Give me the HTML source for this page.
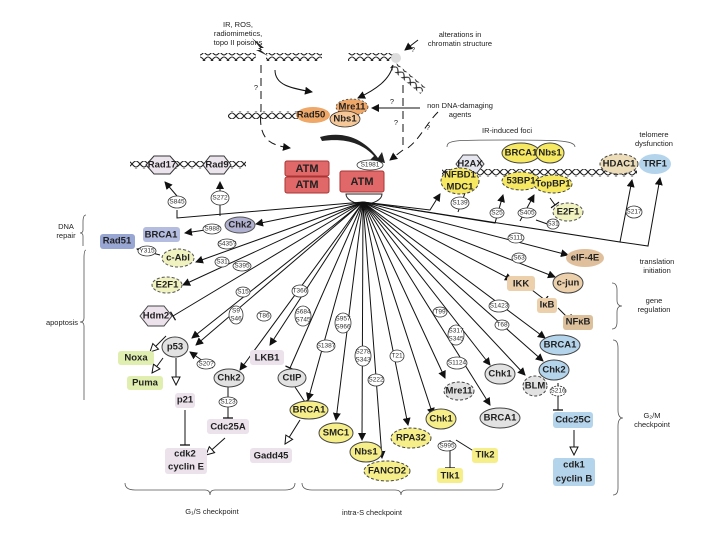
<!DOCTYPE html>
<html><head><meta charset="utf-8"><style>
html,body{margin:0;padding:0;background:#fff}
svg{display:block}
text{font-family:"Liberation Sans",sans-serif}
.n{font-size:9.5px;font-weight:bold;fill:#222;text-anchor:middle;dominant-baseline:central}
.s{font-size:6.5px;fill:#333;text-anchor:middle;dominant-baseline:central}
.l{font-size:7.5px;fill:#222;text-anchor:middle}
.ln{stroke:#111;stroke-width:1;fill:none}
.so{fill:#fff;stroke:#333;stroke-width:0.8}
</style></head><body>
<svg width="720" height="540" viewBox="0 0 720 540" xmlns="http://www.w3.org/2000/svg">
<defs>
<marker id="a" markerWidth="8" markerHeight="8" refX="7" refY="4" orient="auto" markerUnits="userSpaceOnUse"><path d="M0,0L8,4L0,8z" fill="#111"/></marker>
<marker id="o" markerWidth="10" markerHeight="10" refX="9" refY="5" orient="auto" markerUnits="userSpaceOnUse"><path d="M1,1L9,5L1,9z" fill="#fff" stroke="#111"/></marker>
<marker id="t" markerWidth="4" markerHeight="10" refX="2" refY="5" orient="auto" markerUnits="userSpaceOnUse"><path d="M2,0L2,10" stroke="#111" stroke-width="1.3"/></marker>
<pattern id="h" width="8" height="8" patternUnits="userSpaceOnUse"><path d="M0,1C3,1 5,7 8,7M0,7C3,7 5,1 8,1" stroke="#222" stroke-width="1.1" fill="none"/></pattern>
</defs>

<!-- top stimuli -->
<text class="l" x="238" y="27" text-anchor="end">IR, ROS,</text>
<text class="l" x="238" y="36" text-anchor="end">radiomimetics,</text>
<text class="l" x="238" y="45" text-anchor="end">topo II poisons</text>
<path d="M252,38L264,48L258,48L268,56L256,50L262,50z" fill="#222"/>
<rect x="200" y="53" width="56" height="8" fill="url(#h)"/>
<rect x="266" y="53" width="56" height="8" fill="url(#h)"/>
<rect x="348" y="53" width="46" height="8" fill="url(#h)"/>
<rect x="395" y="62" width="40" height="8" fill="url(#h)" transform="rotate(40 395 62)"/>
<circle cx="396" cy="58" r="5" fill="#ddd"/>
<text class="l" x="460" y="37">alterations in</text>
<text class="l" x="460" y="46">chromatin structure</text>
<path class="ln" d="M418,40L405,50" marker-end="url(#a)"/>
<text class="l" x="413" y="52">?</text>
<rect x="228" y="111" width="100" height="8" fill="url(#h)"/>
<path class="ln" d="M275,70C275,85 290,88 312,92" marker-end="url(#a)"/>
<path class="ln" d="M393,65C390,80 375,90 358,98" marker-end="url(#a)"/>
<path class="ln" d="M420,108L372,108" marker-end="url(#a)"/>
<text class="l" x="392" y="104">?</text>
<text class="l" x="460" y="108">non DNA-damaging</text>
<text class="l" x="460" y="117">agents</text>
<path class="ln" stroke-dasharray="8,5" d="M261,65L261,110C258,140 270,145 290,148" marker-end="url(#a)"/>
<text class="l" x="256" y="90">?</text>
<path class="ln" stroke-dasharray="8,5" d="M403,85L403,150L390,160" marker-end="url(#a)"/>
<text class="l" x="396" y="125">?</text>
<path class="ln" stroke-dasharray="8,5" d="M438,112C425,125 420,140 405,150"/>
<text class="l" x="428" y="130">?</text>
<path d="M320,137C345,130 365,140 378,158L382,152L385,163L370,160L374,156C362,143 345,138 322,141z" fill="#222"/>
<ellipse cx="313" cy="115" rx="17" ry="8" fill="#f0a868"/>
<text class="n" x="311" y="115">Rad50</text>
<ellipse cx="352" cy="107" rx="16" ry="8" fill="#f0a868" stroke="#333" stroke-dasharray="2,2" stroke-width="0.7"/>
<text class="n" x="352" y="107">Mre11</text>
<ellipse cx="345" cy="119" rx="15" ry="8" fill="#f6c898" stroke="#333" stroke-width="0.8"/>
<text class="n" x="345" y="119">Nbs1</text>

<!-- ATM -->
<rect x="285" y="161" width="44" height="15" rx="2" fill="#e06868" stroke="#a33"/>
<text class="n" x="307" y="169" style="font-size:11px">ATM</text>
<rect x="285" y="177" width="44" height="16" rx="2" fill="#e06868" stroke="#a33"/>
<text class="n" x="307" y="185" style="font-size:11px">ATM</text>
<rect x="340" y="171" width="44" height="21" rx="2" fill="#e06868" stroke="#a33"/>
<text class="n" x="362" y="182" style="font-size:11px">ATM</text>
<ellipse cx="370" cy="165" rx="13" ry="5" class="so"/><text class="s" x="370" y="165">S1981</text>
<path d="M346,194A18,10 0 0 0 382,194z" fill="#fff" stroke="#222"/>

<!-- top-left -->
<rect x="130" y="161" width="116" height="8" fill="url(#h)"/>
<polygon points="146,165 154,156 170,156 178,165 170,174 154,174" fill="#ece4ec" stroke="#333"/>
<text class="n" x="162" y="165">Rad17</text>
<polygon points="203,165 210,156 224,156 231,165 224,174 210,174" fill="#ece4ec" stroke="#333"/>
<text class="n" x="217" y="165">Rad9</text>
<path class="ln" d="M363,202L177,218L177,210"/>
<path class="ln" d="M177,196L165,182" marker-end="url(#a)"/>
<ellipse cx="177" cy="202" rx="9" ry="6" class="so"/><text class="s" x="177" y="202">S845</text>
<path class="ln" d="M220,216L220,182" marker-end="url(#a)"/>
<ellipse cx="220" cy="198" rx="9" ry="7" class="so"/><text class="s" x="220" y="198">S272</text>

<!-- radiating lines -->
<g class="ln">
<path d="M363,202L256,224" marker-end="url(#a)"/>
<path d="M363,202L196,262" marker-end="url(#a)"/>
<path d="M363,202L183,285" marker-end="url(#a)"/>
<path d="M363,202L173,316" marker-end="url(#t)"/>
<path d="M363,202L192,338" marker-end="url(#a)"/>
<path d="M363,202L196,345" marker-end="url(#a)"/>
<path d="M363,202L240,370" marker-end="url(#a)"/>
<path d="M363,202L270,345" marker-end="url(#a)"/>
<path d="M363,202L290,368" marker-end="url(#t)"/>
<path d="M363,202L308,400" marker-end="url(#a)"/>
<path d="M363,202L336,420" marker-end="url(#a)"/>
<path d="M363,202L362,440" marker-end="url(#a)"/>
<path d="M363,202L382,458" marker-end="url(#a)"/>
<path d="M363,202L408,425" marker-end="url(#a)"/>
<path d="M363,202L433,415" marker-end="url(#a)"/>
<path d="M363,202L445,378" marker-end="url(#a)"/>
<path d="M363,202L490,405" marker-end="url(#a)"/>
<path d="M363,202L490,365" marker-end="url(#a)"/>
<path d="M363,202L525,375" marker-end="url(#a)"/>
<path d="M363,202L543,361" marker-end="url(#a)"/>
<path d="M363,202L545,338" marker-end="url(#a)"/>
<path d="M363,202L512,280" marker-end="url(#a)"/>
<path d="M363,202L555,277" marker-end="url(#a)"/>
<path d="M363,202L568,255" marker-end="url(#a)"/>
<path d="M363,202L620,242L632,180" marker-end="url(#a)"/>
<path d="M620,242L648,246L660,178" marker-end="url(#a)"/>
<path d="M363,202L430,210L440,194" marker-end="url(#a)"/>
<path d="M458,212L468,185" marker-end="url(#a)"/>
<path d="M363,202L495,223L503,195" marker-end="url(#a)"/>
<path d="M520,221L534,195" marker-end="url(#a)"/>
<path d="M536,220L553,226"/>
<path d="M212,229L185,233" marker-end="url(#a)"/>
<path d="M160,255L137,249" marker-end="url(#a)"/>
<path d="M166,336L150,352" marker-end="url(#o)"/>
<path d="M163,358L152,373" marker-end="url(#o)"/>
<path d="M176,358L176,385" marker-end="url(#o)"/>
<path d="M185,410L185,445" marker-end="url(#t)"/>
<path d="M213,368L190,352" marker-end="url(#a)"/>
<path d="M228,387L228,418" marker-end="url(#t)"/>
<path d="M225,438L206,455" marker-end="url(#o)"/>
<path d="M295,387L305,402" marker-end="url(#t)"/>
<path d="M300,420L285,444" marker-end="url(#o)"/>
<path d="M450,440L450,468" marker-end="url(#t)"/>
<path d="M456,440L480,455" marker-end="url(#t)"/>
<path d="M532,290L545,300" marker-end="url(#t)"/>
<path d="M558,308L568,318" marker-end="url(#t)"/>
<path d="M558,383L558,410" marker-end="url(#t)"/>
<path d="M574,430L574,455" marker-end="url(#o)"/>
<path d="M550,198L555,205" marker-end="url(#t)"/>
</g>

<!-- phospho sites -->
<g>
<ellipse cx="212" cy="229" rx="9" ry="5" class="so"/><text class="s" x="212" y="229">S988</text>
<ellipse cx="227" cy="244" rx="9" ry="5" class="so"/><text class="s" x="227" y="244">S435?</text>
<ellipse cx="147" cy="251" rx="9" ry="5" class="so"/><text class="s" x="147" y="251">Y315</text>
<ellipse cx="222" cy="262" rx="7" ry="5" class="so"/><text class="s" x="222" y="262">S31</text>
<ellipse cx="242" cy="266" rx="9" ry="5" class="so"/><text class="s" x="242" y="266">S395</text>
<ellipse cx="243" cy="292" rx="7" ry="5" class="so"/><text class="s" x="243" y="292">S15</text>
<ellipse cx="236" cy="315" rx="7" ry="9" class="so"/><text class="s" x="236" y="311">S9</text><text class="s" x="236" y="319">S46</text>
<ellipse cx="264" cy="316" rx="7" ry="5" class="so"/><text class="s" x="264" y="316">T86</text>
<ellipse cx="300" cy="291" rx="8" ry="6" class="so"/><text class="s" x="300" y="291">T366</text>
<ellipse cx="303" cy="316" rx="8" ry="10" class="so"/><text class="s" x="303" y="312">S684</text><text class="s" x="303" y="320">S745</text>
<ellipse cx="343" cy="323" rx="8" ry="10" class="so"/><text class="s" x="343" y="319">S957</text><text class="s" x="343" y="327">S966</text>
<ellipse cx="326" cy="346" rx="9" ry="6" class="so"/><text class="s" x="326" y="346">S1387</text>
<ellipse cx="363" cy="356" rx="8" ry="10" class="so"/><text class="s" x="363" y="352">S278</text><text class="s" x="363" y="360">S343</text>
<ellipse cx="376" cy="380" rx="8" ry="6" class="so"/><text class="s" x="376" y="380">S222</text>
<ellipse cx="397" cy="356" rx="7" ry="6" class="so"/><text class="s" x="397" y="356">T21</text>
<ellipse cx="440" cy="312" rx="7" ry="5" class="so"/><text class="s" x="440" y="312">T99</text>
<ellipse cx="456" cy="335" rx="8" ry="10" class="so"/><text class="s" x="456" y="331">S317</text><text class="s" x="456" y="339">S345</text>
<ellipse cx="457" cy="363" rx="10" ry="6" class="so"/><text class="s" x="457" y="363">S1124</text>
<ellipse cx="499" cy="306" rx="10" ry="6" class="so"/><text class="s" x="499" y="306">S1423</text>
<ellipse cx="502" cy="325" rx="7" ry="5" class="so"/><text class="s" x="502" y="325">T68</text>
<ellipse cx="447" cy="446" rx="9" ry="5" class="so"/><text class="s" x="447" y="446">S995</text>
<ellipse cx="228" cy="402" rx="9" ry="5" class="so"/><text class="s" x="228" y="402">S123</text>
<ellipse cx="206" cy="364" rx="9" ry="5" class="so"/><text class="s" x="206" y="364">S20?</text>
<ellipse cx="558" cy="391" rx="8" ry="5" class="so" stroke-dasharray="2,1"/><text class="s" x="558" y="391">S216</text>
<ellipse cx="516" cy="238" rx="8" ry="5" class="so"/><text class="s" x="516" y="238">S111</text>
<ellipse cx="519" cy="258" rx="7" ry="5" class="so"/><text class="s" x="519" y="258">S63</text>
<ellipse cx="460" cy="203" rx="9" ry="6" class="so"/><text class="s" x="460" y="203">S139</text>
<ellipse cx="497" cy="213" rx="7" ry="5" class="so"/><text class="s" x="497" y="213">S25</text>
<ellipse cx="527" cy="213" rx="9" ry="5" class="so"/><text class="s" x="527" y="213">S405</text>
<ellipse cx="553" cy="224" rx="6" ry="5" class="so"/><text class="s" x="553" y="224">S31</text>
<ellipse cx="634" cy="212" rx="8" ry="6" class="so"/><text class="s" x="634" y="212">S217</text>
</g>

<!-- left nodes -->
<ellipse cx="240" cy="225" rx="15" ry="8" fill="#b0b0d0" stroke="#555"/><text class="n" x="240" y="225">Chk2</text>
<rect x="143" y="227" width="37" height="15" rx="3" fill="#b4bce0"/><text class="n" x="161" y="235">BRCA1</text>
<rect x="100" y="234" width="35" height="15" rx="3" fill="#98a6d4"/><text class="n" x="117" y="241">Rad51</text>
<ellipse cx="178" cy="258" rx="16" ry="9" fill="#f0f2c0" stroke="#555" stroke-dasharray="3,2"/><text class="n" x="178" y="258">c-Abl</text>
<ellipse cx="167" cy="285" rx="15" ry="8" fill="#f0f2c0" stroke="#555" stroke-dasharray="3,2"/><text class="n" x="167" y="285">E2F1</text>
<polygon points="140,316 148,306 164,306 172,316 164,326 148,326" fill="#ece2ec" stroke="#444"/><text class="n" x="156" y="316">Hdm2</text>
<ellipse cx="175" cy="347" rx="13" ry="10" fill="#e2e2e2" stroke="#444"/><text class="n" x="175" y="347">p53</text>
<rect x="118" y="351" width="36" height="14" rx="3" fill="#e0eeb0"/><text class="n" x="136" y="358">Noxa</text>
<rect x="127" y="376" width="36" height="14" rx="3" fill="#e0eeb0"/><text class="n" x="145" y="383">Puma</text>
<rect x="175" y="393" width="20" height="15" rx="3" fill="#ebe2eb"/><text class="n" x="185" y="400">p21</text>
<rect x="165" y="448" width="42" height="26" rx="3" fill="#ebe2eb"/><text class="n" x="185" y="454">cdk2</text><text class="n" x="186" y="467">cyclin E</text>
<ellipse cx="229" cy="378" rx="15" ry="9" fill="#e2e2e2" stroke="#444"/><text class="n" x="229" y="378">Chk2</text>
<rect x="207" y="419" width="42" height="15" rx="3" fill="#ebe2eb"/><text class="n" x="228" y="427">Cdc25A</text>
<rect x="250" y="350" width="34" height="15" rx="3" fill="#ebe2eb"/><text class="n" x="267" y="358">LKB1</text>
<ellipse cx="292" cy="378" rx="14" ry="9" fill="#e2e2e2" stroke="#444"/><text class="n" x="292" y="378">CtIP</text>
<ellipse cx="309" cy="410" rx="19" ry="9" fill="#f6ee88" stroke="#444"/><text class="n" x="309" y="410">BRCA1</text>
<rect x="250" y="448" width="42" height="15" rx="3" fill="#ebe2eb"/><text class="n" x="271" y="456">Gadd45</text>

<!-- middle nodes -->
<ellipse cx="336" cy="433" rx="17" ry="10" fill="#f6ee88" stroke="#444"/><text class="n" x="336" y="433">SMC1</text>
<ellipse cx="366" cy="452" rx="16" ry="10" fill="#f6ee88" stroke="#444"/><text class="n" x="366" y="452">Nbs1</text>
<ellipse cx="387" cy="471" rx="23" ry="10" fill="#f6ee88" stroke="#444" stroke-dasharray="3,2"/><text class="n" x="387" y="471">FANCD2</text>
<ellipse cx="411" cy="438" rx="20" ry="10" fill="#f6ee88" stroke="#444" stroke-dasharray="3,2"/><text class="n" x="411" y="438">RPA32</text>
<ellipse cx="441" cy="419" rx="15" ry="10" fill="#f6ee88" stroke="#444"/><text class="n" x="441" y="419">Chk1</text>
<rect x="437" y="468" width="26" height="15" rx="3" fill="#f6ee88"/><text class="n" x="450" y="476">Tlk1</text>
<rect x="472" y="448" width="26" height="15" rx="3" fill="#f6ee88"/><text class="n" x="485" y="455">Tlk2</text>
<ellipse cx="459" cy="391" rx="15" ry="9" fill="#e2e2e2" stroke="#444" stroke-dasharray="3,2"/><text class="n" x="459" y="391">Mre11</text>
<ellipse cx="500" cy="418" rx="20" ry="10" fill="#e2e2e2" stroke="#444"/><text class="n" x="500" y="418">BRCA1</text>
<ellipse cx="500" cy="374" rx="15" ry="10" fill="#e2e2e2" stroke="#444"/><text class="n" x="500" y="374">Chk1</text>
<ellipse cx="535" cy="386" rx="12" ry="10" fill="#e2e2e2" stroke="#444" stroke-dasharray="3,2"/><text class="n" x="535" y="386">BLM</text>
<ellipse cx="560" cy="345" rx="20" ry="10" fill="#b4d4ec" stroke="#444"/><text class="n" x="560" y="345">BRCA1</text>
<ellipse cx="554" cy="370" rx="15" ry="10" fill="#b4d4ec" stroke="#444"/><text class="n" x="554" y="370">Chk2</text>
<rect x="553" y="412" width="40" height="16" rx="3" fill="#b4d4ec"/><text class="n" x="573" y="420">Cdc25C</text>
<rect x="553" y="458" width="42" height="28" rx="3" fill="#b4d4ec"/><text class="n" x="574" y="465">cdk1</text><text class="n" x="574" y="479">cyclin B</text>

<!-- right nodes -->
<rect x="507" y="276" width="28" height="15" rx="3" fill="#ecd0ac"/><text class="n" x="521" y="284">IKK</text>
<rect x="537" y="298" width="20" height="15" rx="3" fill="#ecd0ac"/><text class="n" x="547" y="305">IκB</text>
<rect x="563" y="315" width="30" height="15" rx="3" fill="#dcc09c"/><text class="n" x="578" y="322">NFκB</text>
<ellipse cx="568" cy="283" rx="15" ry="10" fill="#ecd0ac" stroke="#444"/><text class="n" x="568" y="283">c-jun</text>
<ellipse cx="585" cy="258" rx="19" ry="9" fill="#e0c09c"/><text class="n" x="585" y="258">eIF-4E</text>

<!-- top right -->
<text class="l" x="507" y="133">IR-induced foci</text>
<path d="M447,147C447,140 455,140 505,140C555,140 575,140 575,147" fill="none" stroke="#555" stroke-width="0.8"/>
<rect x="442" y="169" width="195" height="8" fill="url(#h)"/>
<polygon points="456,164 463,155 477,155 484,164 477,173 463,173" fill="#e6e6f0" stroke="#444"/><text class="n" x="470" y="164">H2AX</text>
<ellipse cx="460" cy="181" rx="19" ry="13" fill="#f6e860" stroke="#444" stroke-dasharray="3,2"/><text class="n" x="460" y="175">NFBD1</text><text class="n" x="460" y="187">MDC1</text>
<ellipse cx="521" cy="153" rx="19" ry="10" fill="#f6e860" stroke="#444"/><text class="n" x="521" y="153">BRCA1</text>
<ellipse cx="550" cy="153" rx="14" ry="10" fill="#f6e860" stroke="#444"/><text class="n" x="550" y="153">Nbs1</text>
<ellipse cx="521" cy="181" rx="19" ry="9" fill="#f6e860" stroke="#444" stroke-dasharray="3,2"/><text class="n" x="521" y="181">53BP1</text>
<ellipse cx="553" cy="184" rx="19" ry="9" fill="#f6e860" stroke="#444" stroke-dasharray="3,2"/><text class="n" x="553" y="184">TopBP1</text>
<ellipse cx="568" cy="212" rx="15" ry="9" fill="#f0f2c0" stroke="#555" stroke-dasharray="3,2"/><text class="n" x="568" y="212">E2F1</text>
<ellipse cx="619" cy="164" rx="19" ry="10" fill="#ecdcb8" stroke="#444" stroke-dasharray="3,2"/><text class="n" x="619" y="164">HDAC1</text>
<ellipse cx="655" cy="164" rx="16" ry="10" fill="#b4d4ec"/><text class="n" x="655" y="164">TRF1</text>
<text class="l" x="654" y="137">telomere</text><text class="l" x="654" y="146">dysfunction</text>

<!-- annotations -->
<text class="l" x="657" y="264">translation</text><text class="l" x="657" y="273">initiation</text>
<path d="M612,283Q617,283 617,290L617,300Q617,306 622,306Q617,306 617,312L617,322Q617,329 612,329" fill="none" stroke="#555" stroke-width="0.8"/>
<text class="l" x="654" y="303">gene</text><text class="l" x="654" y="312">regulation</text>
<path d="M613,340Q618,340 618,348L618,410Q618,418 623,418Q618,418 618,426L618,488Q618,495 613,495" fill="none" stroke="#555" stroke-width="0.8"/>
<text class="l" x="652" y="418">G₂/M</text><text class="l" x="652" y="427">checkpoint</text>
<text class="l" x="66" y="229">DNA</text><text class="l" x="66" y="238">repair</text>
<path d="M86,215Q83,215 83,222L83,230Q83,233 80,233Q83,233 83,236L83,246" fill="none" stroke="#555" stroke-width="0.8"/>
<path d="M86,250Q84,250 84,258L84,318Q84,322 80,322Q84,322 84,326L84,400" fill="none" stroke="#555" stroke-width="0.8"/>
<text class="l" x="62" y="325">apoptosis</text>
<path d="M125,483Q125,490 135,490L205,490Q210,490 210,495Q210,490 215,490L285,490Q295,490 295,483" fill="none" stroke="#555" stroke-width="0.8"/>
<text class="l" x="212" y="514">G₁/S checkpoint</text>
<path d="M302,483Q302,490 312,490L395,490Q401,490 401,495Q401,490 407,490L495,490Q503,490 503,483" fill="none" stroke="#555" stroke-width="0.8"/>
<text class="l" x="372" y="515">intra-S checkpoint</text>
</svg>
</body></html>
